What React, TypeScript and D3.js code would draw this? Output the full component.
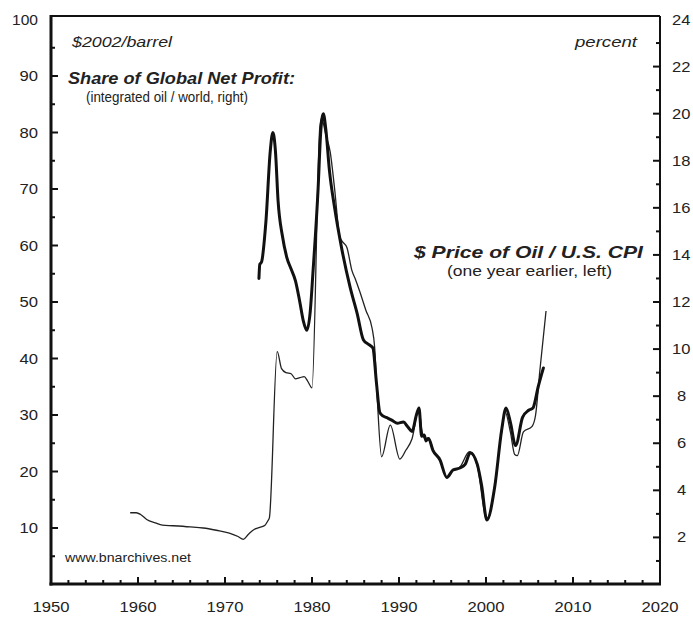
import React from "react";
import * as d3 from "d3";

// Oil price / U.S. CPI (one year earlier), $2002/barrel, left axis
const priceYears = [
  1959.1, 1959.8, 1960.3, 1961.0, 1962.0, 1962.8, 1964.0, 1966.0, 1967.5, 1969.0,
  1970.5, 1971.5, 1972.1, 1972.7, 1973.3, 1974.0, 1974.6, 1974.9, 1975.1, 1976.0,
  1976.5, 1977.0, 1977.6, 1978.1, 1978.6, 1979.1, 1979.5, 1980.0, 1980.9, 1981.1,
  1981.6, 1982.1, 1982.6, 1983.2, 1983.6, 1984.0, 1984.6, 1985.0, 1985.5, 1986.2,
  1986.9, 1987.2, 1987.5, 1988.0, 1989.0, 1990.1, 1990.8, 1991.5, 1992.3, 1992.6,
  1993.0, 1993.4, 1993.9, 1994.7, 1995.5, 1996.2, 1997.0, 1998.1, 1999.0, 2000.1,
  2001.0, 2001.8, 2002.2, 2002.8, 2003.3, 2003.6, 2004.3, 2005.3, 2005.7, 2006.2,
  2006.9,
];
const priceValues = [
  12.7, 12.7, 12.4, 11.5, 10.9, 10.5, 10.4, 10.2, 10.0, 9.6,
  9.1, 8.5, 8.0, 8.9, 9.7, 10.1, 10.5, 11.2, 11.8, 41.2,
  38.2, 37.5, 37.3, 36.4, 36.6, 36.8, 36.0, 34.8, 81.0, 82.5,
  79.5, 76.5, 70.0, 61.5, 60.5, 59.7, 55.5, 54.0, 51.8, 48.5,
  45.4, 42.0, 33.0, 22.6, 28.2, 22.2, 23.8, 25.8, 31.2, 27.5,
  25.8, 26.0, 23.8, 22.0, 18.9, 20.2, 20.8, 23.5, 21.0, 11.3,
  17.5, 27.0, 30.5, 27.0, 23.0, 22.8, 27.0, 28.0, 30.0, 38.0,
  48.4,
];

// Share of global net profit (integrated oil / world), percent, right axis
const shareYears = [
  1973.9, 1974.0, 1974.2, 1974.7, 1975.2, 1975.5, 1975.8, 1976.1, 1976.6, 1977.1,
  1977.6, 1978.1, 1978.6, 1979.0, 1979.4, 1979.8, 1980.1, 1980.7, 1981.0, 1981.3,
  1981.6, 1982.0, 1982.6, 1983.4, 1984.4, 1985.2, 1985.9, 1986.5, 1987.0, 1987.4,
  1987.8, 1988.2, 1988.7, 1989.3, 1989.8, 1990.5, 1991.0, 1991.5, 1992.0, 1992.3,
  1992.6, 1992.9, 1993.1, 1993.4, 1993.9, 1994.7, 1995.5, 1996.2, 1997.0, 1997.6,
  1998.2, 1999.0, 1999.5, 2000.1, 2001.0, 2001.8, 2002.3, 2002.8, 2003.4, 2004.2,
  2004.9, 2005.4, 2006.0, 2006.6,
];
const shareValues = [
  13.0, 13.6, 13.7, 15.4, 18.4, 19.2, 18.4, 16.3, 14.8, 13.9,
  13.4, 12.9, 12.0, 11.2, 10.8, 11.6, 13.2, 16.8, 19.2, 20.0,
  19.3, 17.6, 16.0, 14.3, 12.6, 11.5, 10.4, 10.2, 10.05, 8.6,
  7.3, 7.15, 7.07, 6.95, 6.85, 6.9, 6.7, 6.5, 7.2, 7.5,
  6.3, 6.35, 6.1, 6.2, 5.7, 5.3, 4.55, 4.86, 4.95, 5.1,
  5.6, 5.1, 4.2, 2.74, 4.14, 6.56, 7.5, 6.9, 5.9, 7.1,
  7.4, 7.5, 8.4, 9.2,
];

const xTickLabels = [1950, 1960, 1970, 1980, 1990, 2000, 2010, 2020];
const leftTickLabels = [10, 20, 30, 40, 50, 60, 70, 80, 90, 100];
const rightTickLabels = [2, 4, 6, 8, 10, 12, 14, 16, 18, 20, 22, 24];

const FONT = "'Liberation Sans', Arial, Helvetica, sans-serif";

export default function App() {
  const L = 51, R = 660, T = 16, B = 584;
  const x = d3.scaleLinear().domain([1950, 2020]).range([L, R]);
  const yL = d3.scaleLinear().domain([0, 100]).range([584.5, 19.5]);
  const yR = d3.scaleLinear().domain([0, 24]).range([584.5, 19.5]);

  const priceData = priceYears.map((yr, i) => [yr, priceValues[i]] as [number, number]);
  const shareData = shareYears.map((yr, i) => [yr, shareValues[i]] as [number, number]);

  const priceLine = d3.line<[number, number]>().x(d => x(d[0])).y(d => yL(d[1])).curve(d3.curveMonotoneX);
  const shareLine = d3.line<[number, number]>().x(d => x(d[0])).y(d => yR(d[1])).curve(d3.curveMonotoneX);

  const xMinor = d3.range(1950, 2021, 2);
  const leftMinor = d3.range(5, 100, 5);
  const rightMinor = d3.range(1, 24, 1);

  const labelLen = (s: string) => s.length * 9.2;

  return (
    <svg width={693} height={618} style={{ position: "absolute", left: 0, top: 0, background: "#fff" }}
      fontFamily={FONT}>
      <rect x={0} y={0} width={693} height={618} fill="#fff" />
      {/* ticks */}
      {xMinor.map(v => {
        const major = v % 10 === 0;
        return <line key={"xt" + v} x1={x(v)} x2={x(v)} y1={B} y2={B - (major ? 7 : 4)} stroke="#111" strokeWidth={2} />;
      })}
      {leftMinor.map(v => {
        const major = v % 10 === 0;
        return <line key={"lt" + v} x1={L} x2={L + (major ? 7 : 4)} y1={yL(v)} y2={yL(v)} stroke="#111" strokeWidth={2} />;
      })}
      {rightMinor.map(v => {
        const major = v % 2 === 0;
        return <line key={"rt" + v} x1={R} x2={R - (major ? 7 : 4)} y1={yR(v)} y2={yR(v)} stroke="#111" strokeWidth={2} />;
      })}
      {/* frame */}
      <line x1={L} x2={R} y1={T} y2={T} stroke="#111" strokeWidth={2} />
      <line x1={R} x2={R} y1={T} y2={B} stroke="#111" strokeWidth={2} />
      <line x1={L} x2={L} y1={T - 1} y2={B + 1.5} stroke="#111" strokeWidth={3} />
      <line x1={L - 1.5} x2={R + 1} y1={B} y2={B} stroke="#111" strokeWidth={3} />

      {/* tick labels */}
      {xTickLabels.map(v => (
        <text key={"xl" + v} x={x(v)} y={612} textAnchor="middle" fontSize={15} fill="#222"
          textLength={37} lengthAdjust="spacingAndGlyphs">{v}</text>
      ))}
      {leftTickLabels.map(v => (
        <text key={"ll" + v} x={38} y={yL(v) + 5} textAnchor="end" fontSize={15} fill="#222"
          textLength={v >= 100 ? 26 : 18.5} lengthAdjust="spacingAndGlyphs">{v}</text>
      ))}
      {rightTickLabels.map(v => (
        <text key={"rl" + v} x={v >= 10 ? 672 : 677} y={yR(v) + 5} textAnchor="start" fontSize={15} fill="#222"
          textLength={labelLen(String(v))} lengthAdjust="spacingAndGlyphs">{v}</text>
      ))}

      {/* annotations */}
      <text x={72} y={47} fontSize={15} fontStyle="italic" fill="#222" textLength={100} lengthAdjust="spacingAndGlyphs">$2002/barrel</text>
      <text x={637} y={47} fontSize={15} fontStyle="italic" fill="#222" textAnchor="end" textLength={62} lengthAdjust="spacingAndGlyphs">percent</text>
      <text x={68} y={84} fontSize={17} fontStyle="italic" fontWeight="bold" fill="#222" textLength={227} lengthAdjust="spacingAndGlyphs">Share of Global Net Profit:</text>
      <text x={86} y={102} fontSize={14} fill="#222" textLength={162} lengthAdjust="spacingAndGlyphs">(integrated oil / world, right)</text>
      <text x={414} y={258} fontSize={17} fontStyle="italic" fontWeight="bold" fill="#222" textLength={229} lengthAdjust="spacingAndGlyphs">$ Price of Oil / U.S. CPI</text>
      <text x={447} y={276} fontSize={14} fill="#222" textLength={165} lengthAdjust="spacingAndGlyphs">(one year earlier, left)</text>
      <text x={65} y={562} fontSize={13} fill="#222" textLength={126} lengthAdjust="spacingAndGlyphs">www.bnarchives.net</text>

      {/* series */}
      <path d={priceLine(priceData) || ""} fill="none" stroke="#222" strokeWidth={1.3} strokeLinejoin="round" />
      <path d={shareLine(shareData) || ""} fill="none" stroke="#111" strokeWidth={3} strokeLinejoin="round" strokeLinecap="round" />
    </svg>
  );
}
